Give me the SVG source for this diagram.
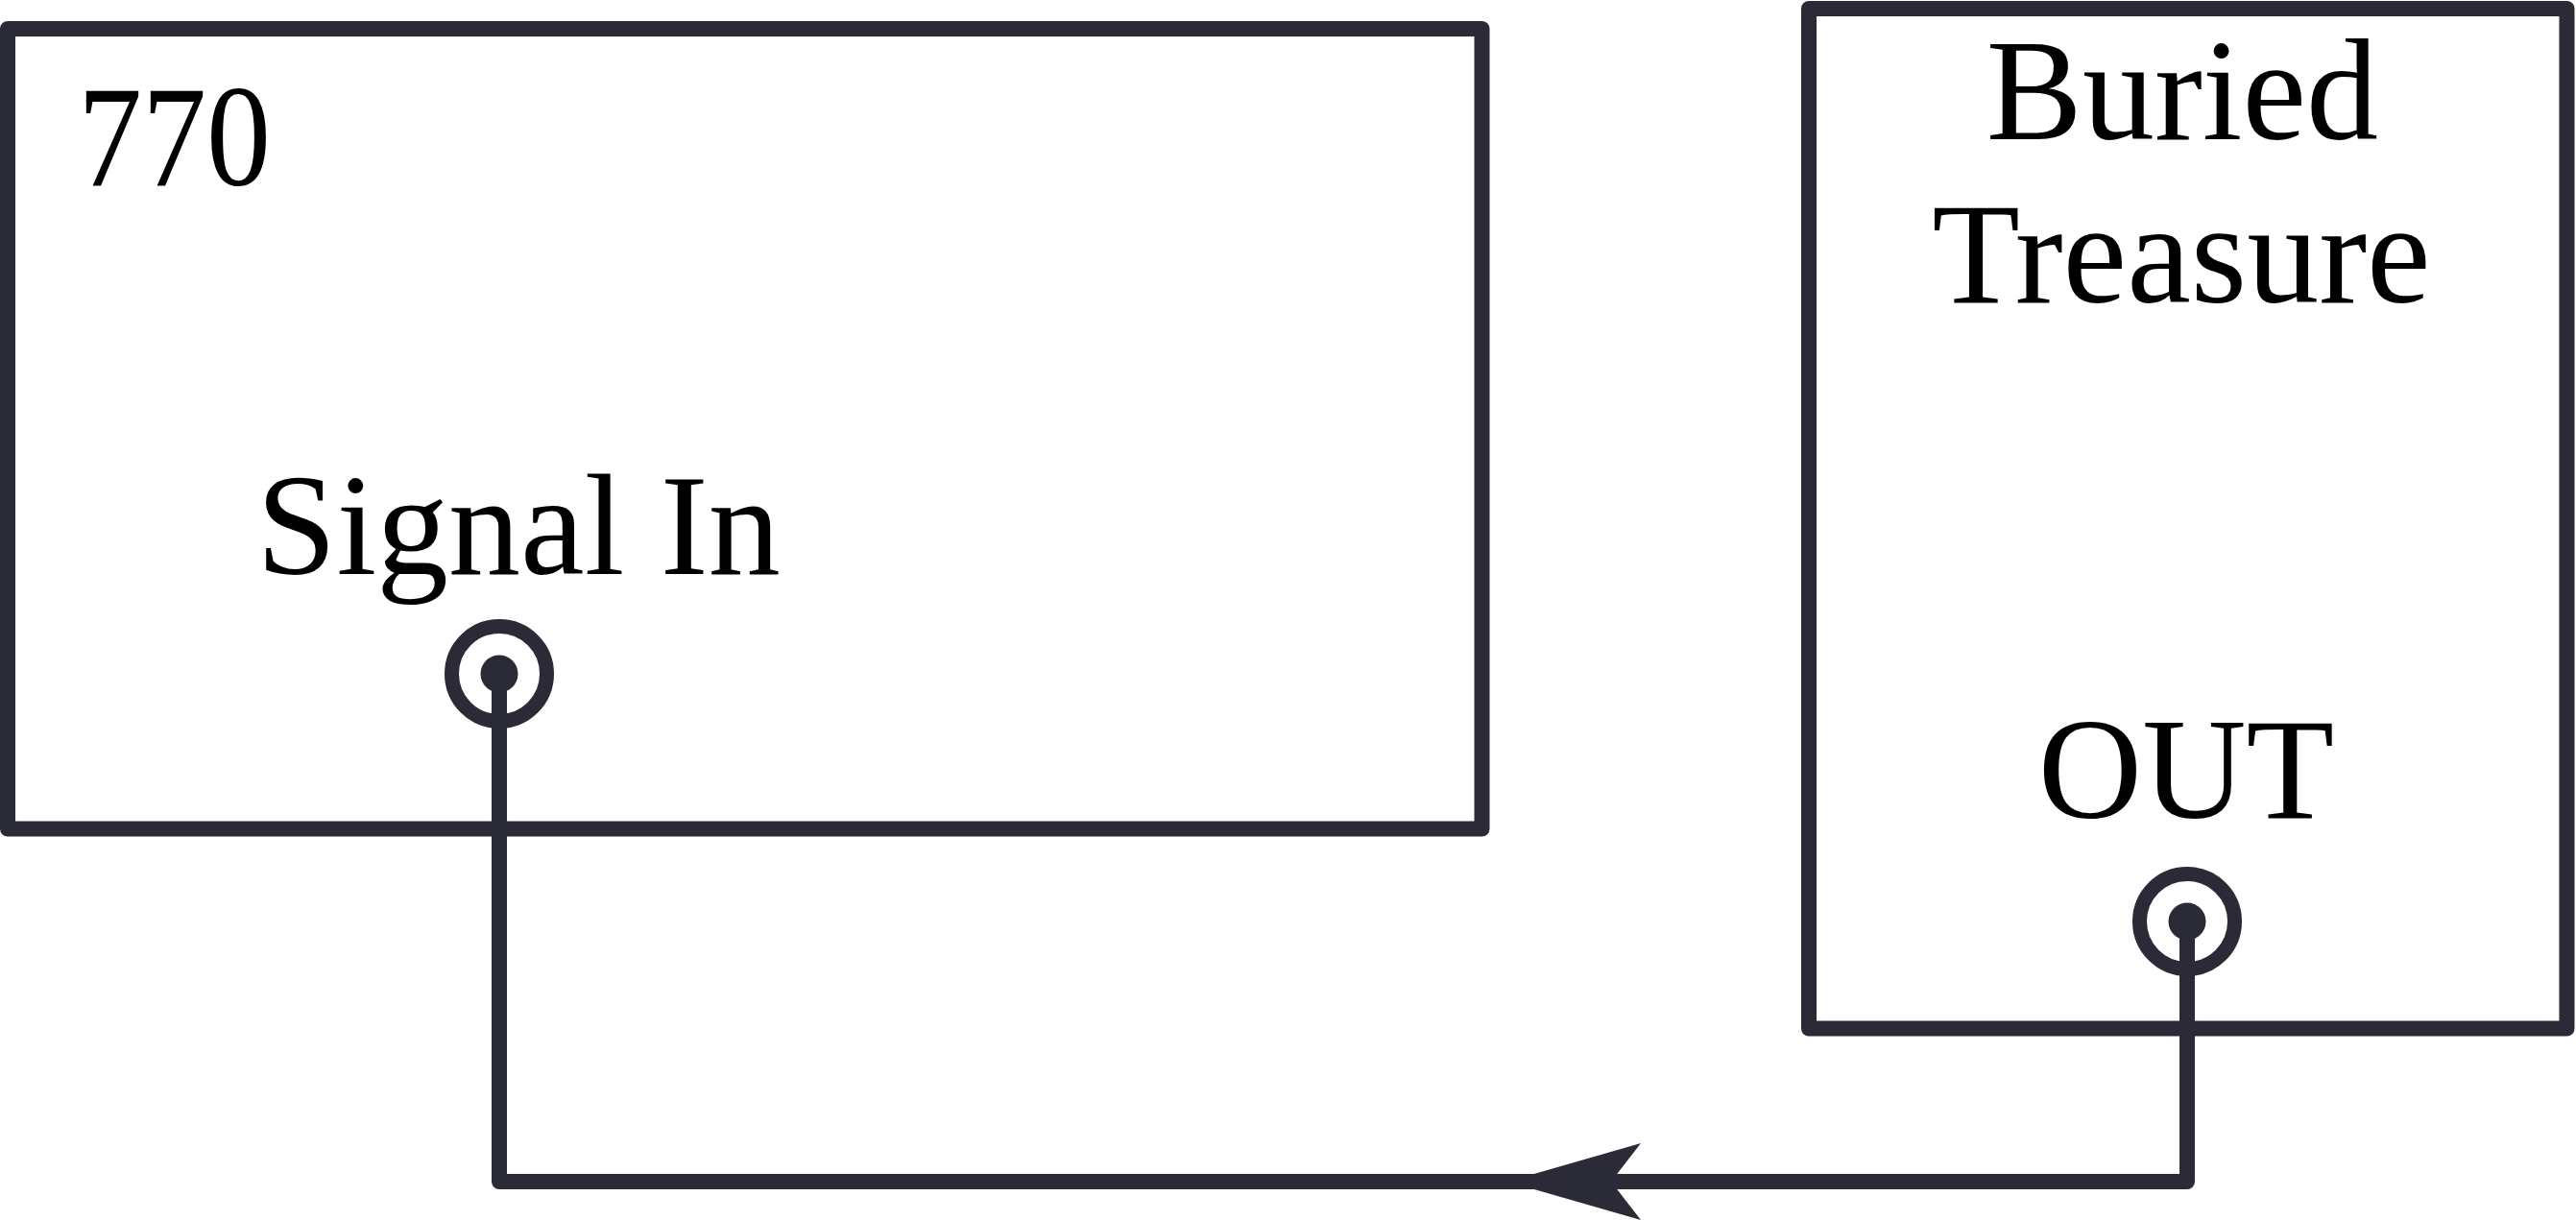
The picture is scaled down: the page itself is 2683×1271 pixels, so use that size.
<svg xmlns="http://www.w3.org/2000/svg" width="2683" height="1271" viewBox="0 0 2683 1271">
<style>
.box{fill:#ffffff;stroke:#2a2b36;stroke-width:16;stroke-linejoin:round}
.lbl{font-family:"Liberation Serif","DejaVu Serif",serif;font-size:150px;fill:#000000}
.ring{fill:#ffffff;stroke:#2a2b36;stroke-width:15}
.dot{fill:#2a2b36}
.wire{fill:none;stroke:#2a2b36;stroke-width:16;stroke-linejoin:round}
</style>
<rect width="2683" height="1271" fill="#ffffff"/>
<g id="node-770">
<rect class="box" x="8" y="30" width="1535.5" height="833.5"/>
<text class="lbl" x="81" y="193" textLength="201" lengthAdjust="spacingAndGlyphs">770</text>
<text class="lbl" x="267" y="598">Signal In</text>
<circle class="ring" cx="520" cy="702" r="49.5"/>
<circle class="dot" cx="520" cy="702" r="19.5"/>
</g>
<g id="node-buried-treasure">
<rect class="box" x="1884" y="9" width="789.5" height="1062.5"/>
<text class="lbl" x="2273" y="145" text-anchor="middle">Buried</text>
<text class="lbl" x="2272" y="315" text-anchor="middle">Treasure</text>
<text class="lbl" x="2277" y="852" text-anchor="middle">OUT</text>
<circle class="ring" cx="2278" cy="960" r="49.5"/>
<circle class="dot" cx="2278" cy="960" r="19.5"/>
</g>
<g id="connectors">
<path class="wire" d="M2278,960 L2278,1231 L520,1231 L520,702"/>
<polygon class="dot" points="1570,1231 1709,1191 1678,1231 1709,1271"/>
</g>
</svg>
